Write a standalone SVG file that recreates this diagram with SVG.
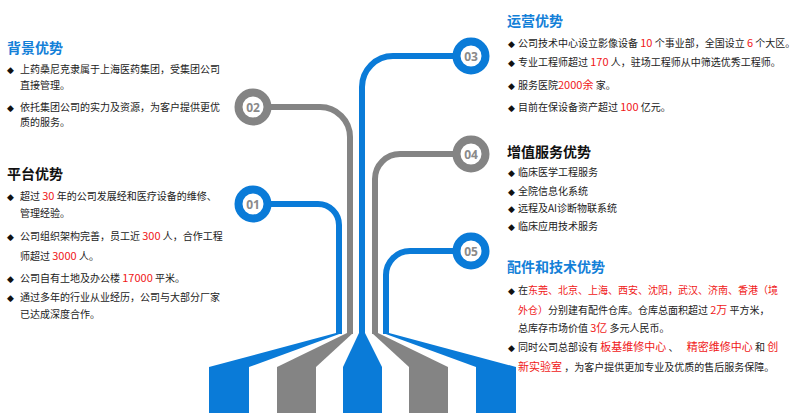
<svg xmlns="http://www.w3.org/2000/svg" width="800" height="413" viewBox="0 0 800 413">
<style>
.t{font-family:"Noto Sans CJK SC","Microsoft YaHei",sans-serif;font-size:10px;fill:#222}
.h{font-family:"Noto Sans CJK SC","Microsoft YaHei",sans-serif;font-size:14px;font-weight:bold}
.hb{fill:#1380d8}.hk{fill:#111}
.r{fill:#f01818;font-size:11px}
.bu{font-family:"DejaVu Sans",sans-serif;font-size:9px;fill:#111}
.ln{fill:none;stroke-width:6}
.bl{stroke:#0a7bd8}.gr{stroke:#848484}
.fb{fill:#0a7bd8}.fg{fill:#848484}
.ring{fill:#fff;stroke-width:8}
.num{font-family:"Open Sans","DejaVu Sans",sans-serif;font-size:12px;font-weight:bold;fill:#8a8a8a;text-anchor:middle}
</style>
<rect width="800" height="413" fill="#fff"/>
<g id="connectors">
<path class="ln bl" d="M253 204 H318 A21 21 0 0 1 339 225 V334"/>
<path class="ln gr" d="M253 107 H320 A30 30 0 0 1 350 137 V334"/>
<path class="ln bl" d="M471 56 H393 A31 31 0 0 0 362 87 V334"/>
<path class="ln gr" d="M471 154 H400 A25 25 0 0 0 375 179 V334"/>
<path class="ln bl" d="M471 251 H410 A24 24 0 0 0 386 275 V334"/>
</g>
<g id="base">
<polygon class="fb" points="336,333 342,333 249,367 209,367"/>
<rect class="fb" x="209" y="367" width="40" height="46"/>
<polygon class="fg" points="347,333 353,333 316,367 277,367"/>
<rect class="fg" x="277" y="367" width="39" height="46"/>
<polygon class="fb" points="359,333 365,333 382,367 343,367"/>
<rect class="fb" x="343" y="367" width="39" height="46"/>
<polygon class="fg" points="372,333 378,333 448,367 409,367"/>
<rect class="fg" x="409" y="367" width="39" height="46"/>
<polygon class="fb" points="383,333 389,333 516,367 476,367"/>
<rect class="fb" x="476" y="367" width="40" height="46"/>
</g>
<g id="n01"><circle class="ring bl" cx="253" cy="204" r="14.5"/><text class="num" x="253" y="208.5">01</text></g>
<g id="n02"><circle class="ring gr" cx="253" cy="107" r="14.5"/><text class="num" x="253" y="111.5">02</text></g>
<g id="n03"><circle class="ring bl" cx="471" cy="56" r="14.5"/><text class="num" x="471" y="60.5">03</text></g>
<g id="n04"><circle class="ring gr" cx="471" cy="154" r="14.5"/><text class="num" x="471" y="158.5">04</text></g>
<g id="n05"><circle class="ring bl" cx="471" cy="251" r="14.5"/><text class="num" x="471" y="255.5">05</text></g>

<g id="p02">
<text class="h hb" x="7" y="53">背景优势</text>
<text class="bu" x="7" y="73">◆</text>
<text class="t" x="20" y="73">上药桑尼克隶属于上海医药集团，受集团公司</text>
<text class="t" x="20" y="89">直接管理。</text>
<text class="bu" x="7" y="111">◆</text>
<text class="t" x="20" y="111">依托集团公司的实力及资源，为客户提供更优</text>
<text class="t" x="20" y="126">质的服务。</text>
</g>
<g id="p01">
<text class="h hk" x="7" y="179">平台优势</text>
<text class="bu" x="7" y="200">◆</text>
<text class="t" x="20" y="200">超过 <tspan class="r">30</tspan> 年的公司发展经和医疗设备的维修、</text>
<text class="t" x="20" y="217">管理经验。</text>
<text class="bu" x="7" y="240">◆</text>
<text class="t" x="20" y="240">公司组织架构完善，员工近 <tspan class="r">300</tspan> 人，合作工程</text>
<text class="t" x="20" y="260">师超过 <tspan class="r">3000</tspan> 人。</text>
<text class="bu" x="7" y="282">◆</text>
<text class="t" x="20" y="282">公司自有土地及办公楼 <tspan class="r">17000</tspan> 平米。</text>
<text class="bu" x="7" y="301">◆</text>
<text class="t" x="20" y="301">通过多年的行业从业经历，公司与大部分厂家</text>
<text class="t" x="20" y="318">已达成深度合作。</text>
</g>
<g id="p03">
<text class="h hb" x="507" y="26">运营优势</text>
<text class="bu" x="508" y="47">◆</text>
<text class="t" x="518" y="47">公司技术中心设立影像设备 <tspan class="r">10</tspan> 个事业部，全国设立 <tspan class="r">6</tspan> 个大区。</text>
<text class="bu" x="508" y="66">◆</text>
<text class="t" x="518" y="66">专业工程师超过 <tspan class="r">170</tspan> 人，驻场工程师从中筛选优秀工程师。</text>
<text class="bu" x="508" y="89">◆</text>
<text class="t" x="518" y="89">服务医院<tspan class="r">2000余</tspan> 家。</text>
<text class="bu" x="508" y="111">◆</text>
<text class="t" x="518" y="111">目前在保设备资产超过 <tspan class="r">100</tspan> 亿元。</text>
</g>
<g id="p04">
<text class="h hk" x="507" y="157">增值服务优势</text>
<text class="bu" x="508" y="176">◆</text>
<text class="t" x="518" y="176">临床医学工程服务</text>
<text class="bu" x="508" y="195">◆</text>
<text class="t" x="518" y="195">全院信息化系统</text>
<text class="bu" x="508" y="212">◆</text>
<text class="t" x="518" y="212">远程及AI诊断物联系统</text>
<text class="bu" x="508" y="230">◆</text>
<text class="t" x="518" y="230">临床应用技术服务</text>
</g>
<g id="p05">
<text class="h hb" x="507" y="272">配件和技术优势</text>
<text class="bu" x="508" y="294">◆</text>
<text class="t" x="518" y="294">在<tspan class="r" style="font-size:10px">东莞、北京、上海、西安、沈阳，武汉、济南、香港（境</tspan></text>
<text class="t" x="518" y="314"><tspan class="r" style="font-size:10px">外仓）</tspan>分别建有配件仓库。仓库总面积超过 <tspan class="r">2万</tspan> 平方米，</text>
<text class="t" x="518" y="332">总库存市场价值 <tspan class="r">3亿</tspan> 多元人民币。</text>
<text class="bu" x="508" y="351">◆</text>
<text class="t" x="518" y="351">同时公司总部设有 <tspan class="r">板基维修中心</tspan> 、 <tspan class="r" dx="6">精密维修中心</tspan> 和 <tspan class="r">创</tspan></text>
<text class="t" x="518" y="371"><tspan class="r">新实验室</tspan> ，为客户提供更加专业及优质的售后服务保障。</text>
</g>
</svg>
